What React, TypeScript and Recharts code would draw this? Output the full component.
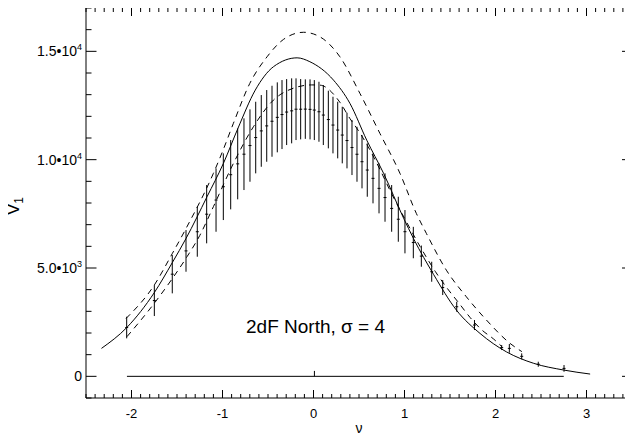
import React from "react";
import { ComposedChart, XAxis, YAxis, Line, Scatter, ErrorBar } from "recharts";

// ---- data ----
const solidX = [-2.33, -2.05, -1.75, -1.55, -1.40, -1.17, -0.99, -0.83, -0.64, -0.44, -0.18, -0.04, 0.22, 0.40, 0.585, 0.77, 0.99, 1.10, 1.32, 1.57, 1.83, 2.12, 2.42, 2.75, 3.04];
const solidY = [1290, 2260, 3860, 5260, 6370, 8290, 9830, 11450, 13210, 14290, 14700, 14520, 13670, 12600, 10900, 9370, 7300, 6350, 4700, 3060, 1980, 1130, 600, 290, 105];

const upperX = [-2.06, -1.75, -1.55, -1.40, -1.10, -0.99, -0.88, -0.70, -0.51, -0.33, -0.11, 0.07, 0.29, 0.51, 0.73, 0.95, 1.13, 1.24, 1.46, 1.68, 1.90, 2.16, 2.29];
const upperY = [2670, 4210, 5680, 6830, 9370, 10480, 11680, 13520, 14750, 15550, 15880, 15670, 14750, 13060, 11210, 9370, 7520, 6600, 4900, 3670, 2600, 1520, 1140];

const lowerX = [-2.05, -1.75, -1.55, -1.39, -1.25, -1.10, -0.88, -0.66, -0.44, -0.22, -0.02, 0.07, 0.29, 0.40, 0.50, 0.60, 0.73, 0.85, 1.00, 1.17, 1.34, 1.47, 1.60, 1.72, 1.85, 1.98, 2.07];
const lowerY = [1830, 3370, 4520, 5520, 6500, 7830, 9830, 11520, 12750, 13300, 13450, 13440, 12650, 11900, 11300, 10600, 9550, 8500, 7300, 6000, 4830, 4060, 3370, 2720, 2140, 1720, 1370];

const barX = [-2.053, -1.749, -1.552, -1.401, -1.277, -1.174, -1.071, -0.991, -0.910, -0.833, -0.764, -0.698, -0.635, -0.574, -0.514, -0.456, -0.398, -0.346, -0.295, -0.240, -0.192, -0.141, -0.090, -0.038, 0.009, 0.060, 0.108, 0.163, 0.214, 0.266, 0.316, 0.368, 0.423, 0.478, 0.533, 0.591, 0.654, 0.720, 0.786, 0.859, 0.932, 1.005, 1.097, 1.185, 1.299, 1.420, 1.574, 1.769, 2.068, 2.152, 2.288, 2.470, 2.753];
const barHi = [2751, 4213, 5598, 6752, 7827, 8829, 9599, 10291, 10905, 11445, 11907, 12322, 12673, 12982, 13213, 13411, 13568, 13674, 13720, 13753, 13753, 13720, 13706, 13706, 13674, 13596, 13443, 13181, 12904, 12673, 12442, 12165, 11828, 11519, 11136, 10753, 10291, 9830, 9368, 8829, 8289, 7675, 6900, 6036, 5289, 4444, 3443, 2598, 1444, 1491, 1061, 674, 521];
const barLo = [1754, 2783, 3830, 4827, 5520, 6138, 6673, 7213, 7707, 8169, 8598, 8981, 9368, 9673, 9904, 10134, 10338, 10490, 10675, 10753, 10905, 10937, 10961, 10937, 10905, 10827, 10675, 10522, 10291, 10061, 9830, 9599, 9290, 8981, 8676, 8289, 7984, 7522, 7135, 6673, 6212, 5676, 5450, 5058, 4366, 3752, 2981, 2137, 1213, 1089, 785, 443, 212];

const zeroX = [-2.05, 2.75];
const zeroY = [0, 0];
const zeroBarX = [0.01];
const zeroBarLo = [0];
const zeroBarHi = [250];

// ---- ticks / labels ----
const xTicks = Array.from({ length: 61 }, (_, i) => (i - 25) / 10);
const yTicks = Array.from({ length: 19 }, (_, i) => (i - 1) * 1000);
const yLabelValues = [0, 5000, 10000, 15000];
const yLabelMantissa = ["0", "5.0\u202210", "1.0\u202210", "1.5\u202210"];
const yLabelExp = ["", "3", "4", "4"];
const xTitle = "\u03bd";
const yTitle = "V";
const yTitleSub = "1";
const annotation = "2dF North, \u03c3 = 4";

const FONT = "'Liberation Sans', Arial, Helvetica, sans-serif";
const INK = "#000";

// layout (plot frame in page pixels)
const W = 633;
const H = 438;
const M_TOP = 8;
const M_RIGHT = 1;
const Y_AXIS_W = 86;
const X_AXIS_H = 40;
const PLOT_TOP = M_TOP;
const PLOT_BOTTOM = H - X_AXIS_H;
const PLOT_LEFT = Y_AXIS_W;
const PLOT_RIGHT = W - M_RIGHT;

const toPts = (xs: number[], ys: number[]) => xs.map((x, i) => ({ x, y: ys[i] }));
const solidData = toPts(solidX, solidY);
const upperData = toPts(upperX, upperY);
const lowerData = toPts(lowerX, lowerY);
const zeroData = toPts(zeroX, zeroY);
const barData = barX.map((x, i) => {
  const mid = (barHi[i] + barLo[i]) / 2;
  return { x, y: mid, err: [mid - barLo[i], barHi[i] - mid] };
});
const zeroBarData = zeroBarX.map((x, i) => ({ x, y: zeroBarLo[i], err: [0, zeroBarHi[i] - zeroBarLo[i]] }));

const isMajorX = (v: number) => Number.isInteger(v);
const isMajorY = (v: number) => v % 5000 === 0;

// bottom axis tick: draws inward ticks on bottom and top frame + label
const BottomTick = (props: any) => {
  const { x, payload } = props;
  const v = payload.value;
  const major = isMajorX(v);
  const len = major ? 8 : 4;
  return (
    <g>
      <line x1={x} x2={x} y1={PLOT_BOTTOM} y2={PLOT_BOTTOM - len} stroke={INK} strokeWidth={1} />
      <line x1={x} x2={x} y1={PLOT_TOP} y2={PLOT_TOP + len} stroke={INK} strokeWidth={1} />
      {major && (
        <text x={x} y={PLOT_BOTTOM + 20} textAnchor="middle" fontSize={13} fontFamily={FONT} fill={INK}>
          {String(v)}
        </text>
      )}
    </g>
  );
};

// left axis tick: draws inward ticks on left and right frame + label
const LeftTick = (props: any) => {
  const { y, payload } = props;
  const v = payload.value;
  const major = isMajorY(v);
  const idx = yLabelValues.indexOf(v);
  return (
    <g>
      <line x1={PLOT_LEFT} x2={PLOT_LEFT + (major ? 10.5 : 5.5)} y1={y} y2={y} stroke={INK} strokeWidth={1} />
      <line x1={PLOT_RIGHT} x2={PLOT_RIGHT - (major ? 10 : 5)} y1={y} y2={y} stroke={INK} strokeWidth={1} />
      {idx >= 0 && (
        <text x={PLOT_LEFT - 4} y={y + 5} textAnchor="end" fontSize={14} fontFamily={FONT} fill={INK}>
          {yLabelMantissa[idx]}
          {yLabelExp[idx] && (
            <tspan dy={-6} fontSize={9}>
              {yLabelExp[idx]}
            </tspan>
          )}
        </text>
      )}
    </g>
  );
};

const MeanTick = (props: any) => {
  const { cx, cy } = props;
  if (cx == null || cy == null) return null;
  return <line x1={cx - 1.5} x2={cx + 1.5} y1={cy} y2={cy} stroke={INK} strokeWidth={1} />;
};

const NoShape = () => <g />;

export default function App() {
  return (
    <div style={{ margin: "-8px 0 0 -8px", width: W, height: H, background: "#fff" }}>
      <ComposedChart width={W} height={H} margin={{ top: M_TOP, right: M_RIGHT, bottom: 0, left: 0 }}>
        <XAxis
          xAxisId="b"
          type="number"
          dataKey="x"
          domain={[-2.5, 3.5]}
          ticks={xTicks}
          interval={0}
          height={X_AXIS_H}
          tickLine={false}
          tick={<BottomTick />}
          axisLine={{ stroke: INK, strokeWidth: 1 }}
          allowDataOverflow
        />
        <XAxis
          xAxisId="t"
          orientation="top"
          type="number"
          dataKey="x"
          domain={[-2.5, 3.5]}
          ticks={[]}
          height={0}
          tickLine={false}
          tick={false}
          axisLine={{ stroke: INK, strokeWidth: 1 }}
          allowDataOverflow
        />
        <YAxis
          yAxisId="l"
          type="number"
          dataKey="y"
          domain={[-1000, 17000]}
          ticks={yTicks}
          interval={0}
          width={Y_AXIS_W}
          tickLine={false}
          tick={<LeftTick />}
          axisLine={{ stroke: INK, strokeWidth: 1 }}
          allowDataOverflow
        />
        <YAxis
          yAxisId="r"
          orientation="right"
          type="number"
          dataKey="y"
          domain={[-1000, 17000]}
          ticks={[]}
          width={0}
          tickLine={false}
          tick={false}
          axisLine={{ stroke: INK, strokeWidth: 1 }}
          allowDataOverflow
        />
        {/* invisible series so the top / right frame axes are drawn */}
        <Line xAxisId="t" yAxisId="r" data={zeroData} dataKey="y" stroke="none" dot={false} isAnimationActive={false} />
        <Line xAxisId="b" yAxisId="l" data={zeroData} dataKey="y" type="linear" stroke={INK} strokeWidth={1} dot={false} isAnimationActive={false} />
        <Line xAxisId="b" yAxisId="l" data={upperData} dataKey="y" type="monotone" stroke={INK} strokeWidth={1} strokeDasharray="6 5" dot={false} isAnimationActive={false} />
        <Line xAxisId="b" yAxisId="l" data={lowerData} dataKey="y" type="monotone" stroke={INK} strokeWidth={1} strokeDasharray="6 5" dot={false} isAnimationActive={false} />
        <Line xAxisId="b" yAxisId="l" data={solidData} dataKey="y" type="monotone" stroke={INK} strokeWidth={1} dot={false} isAnimationActive={false} />
        <Scatter xAxisId="b" yAxisId="l" data={barData} dataKey="y" shape={<MeanTick />} isAnimationActive={false}>
          <ErrorBar dataKey="err" direction="y" width={0} stroke={INK} strokeWidth={1} isAnimationActive={false} />
        </Scatter>
        <Scatter xAxisId="b" yAxisId="l" data={zeroBarData} dataKey="y" shape={<NoShape />} isAnimationActive={false}>
          <ErrorBar dataKey="err" direction="y" width={0} stroke={INK} strokeWidth={1} isAnimationActive={false} />
        </Scatter>
        <text x={359} y={433} textAnchor="middle" fontSize={14} fontFamily={FONT} fill={INK}>
          {xTitle}
        </text>
        <text transform="translate(19,206) rotate(-90)" textAnchor="middle" fontSize={17} fontFamily={FONT} fill={INK}>
          {yTitle}
          <tspan dy={4} fontSize={12}>
            {yTitleSub}
          </tspan>
        </text>
        <text x={315.5} y={333} textAnchor="middle" fontSize={19} fontFamily={FONT} fill={INK}>
          {annotation}
        </text>
      </ComposedChart>
    </div>
  );
}
